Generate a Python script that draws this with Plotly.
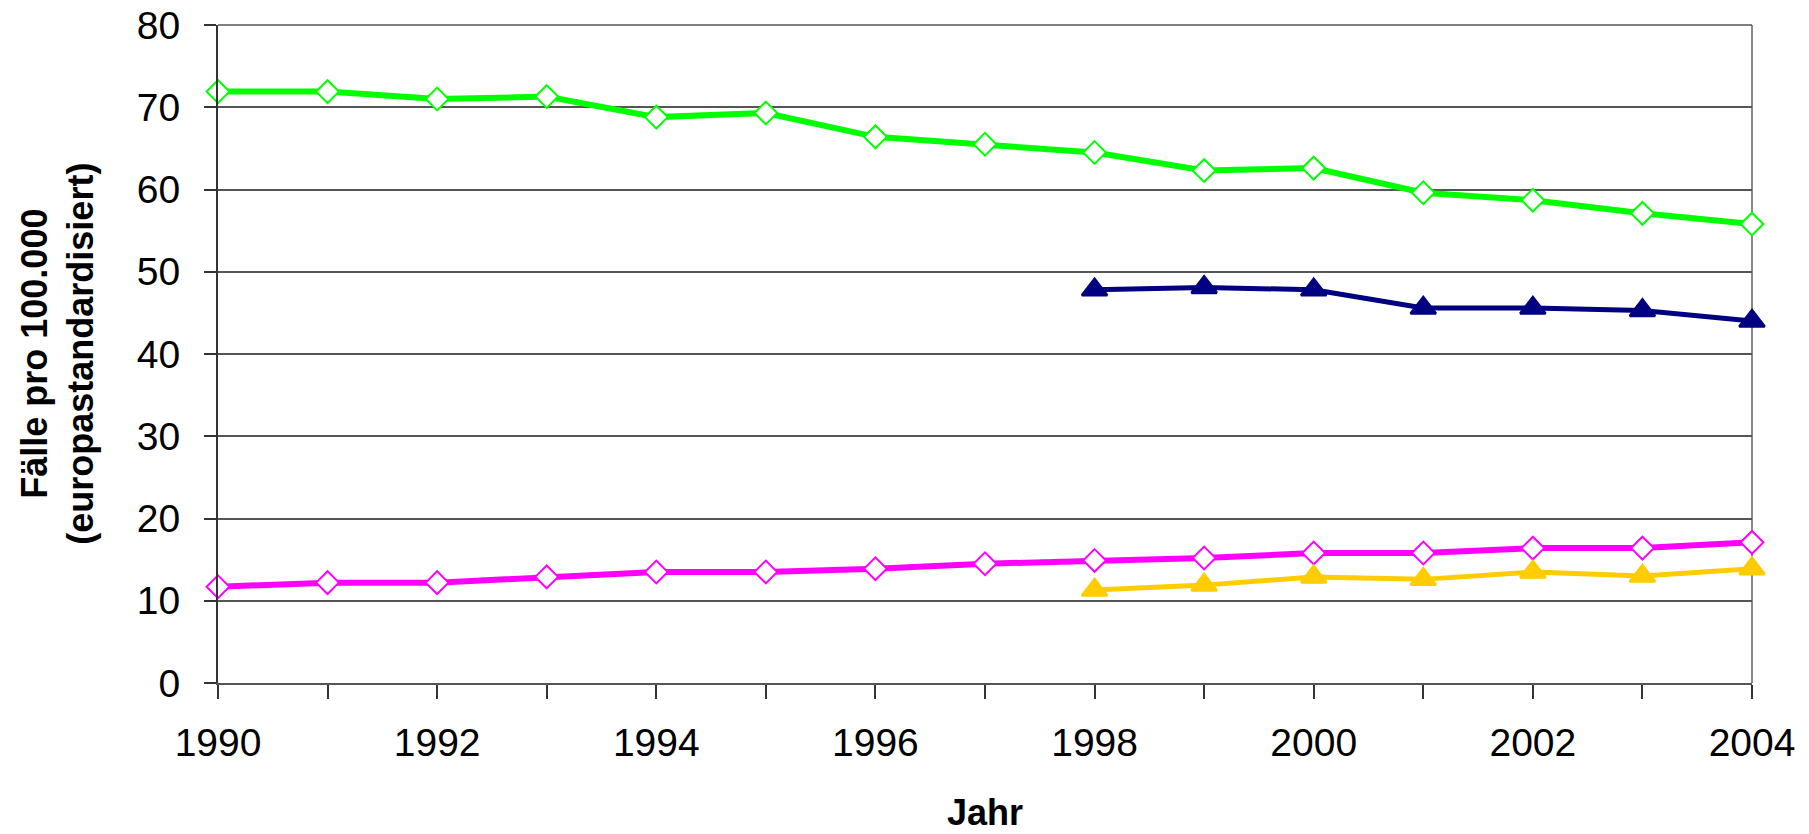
import plotly.graph_objects as go

years_all = list(range(1990, 2005))
years_late = list(range(1998, 2005))

green_vals = [71.9, 71.9, 71.0, 71.3, 68.8, 69.3, 66.4, 65.5, 64.5, 62.3, 62.6, 59.6, 58.7, 57.1, 55.8]
navy_vals = [47.8, 48.1, 47.8, 45.6, 45.6, 45.3, 44.0]
magenta_vals = [11.7, 12.2, 12.2, 12.9, 13.5, 13.5, 13.9, 14.5, 14.9, 15.2, 15.8, 15.8, 16.4, 16.4, 17.1]
yellow_vals = [11.3, 11.9, 12.9, 12.6, 13.5, 13.0, 13.9]

x_tickvals = [1990, 1992, 1994, 1996, 1998, 2000, 2002, 2004]
y_tickvals = [0, 10, 20, 30, 40, 50, 60, 70, 80]

FONT = "Liberation Sans, Arial, sans-serif"

fig = go.Figure()

def diamond_trace(x, y, color, lw):
    return go.Scatter(
        x=x, y=y, mode="lines+markers",
        line=dict(color=color, width=lw),
        marker=dict(symbol="diamond", size=17.5, color="white",
                    line=dict(color=color, width=2)),
        cliponaxis=False, showlegend=False, hoverinfo="skip")

def triangle_trace(x, y, color, lw):
    return go.Scatter(
        x=x, y=y, mode="lines+markers",
        line=dict(color=color, width=lw),
        marker=dict(symbol="triangle-up", size=22, color=color,
                    line=dict(color=color, width=2.5)),
        cliponaxis=False, showlegend=False, hoverinfo="skip")

fig.add_trace(diamond_trace(years_all, green_vals, "#00FF00", 6))
fig.add_trace(triangle_trace(years_late, navy_vals, "#000080", 5))
fig.add_trace(diamond_trace(years_all, magenta_vals, "#FF00FF", 6))
fig.add_trace(triangle_trace(years_late, yellow_vals, "#FFCC00", 5))

fig.update_layout(
    width=1801, height=826,
    margin=dict(l=210, r=57, t=17, b=151, autoexpand=False),
    paper_bgcolor="white", plot_bgcolor="white",
    font=dict(family=FONT, color="black"),
    xaxis=dict(
        range=[1990, 2004], tickvals=x_tickvals,
        ticks="outside", ticklen=14, tickwidth=1.5, tickcolor="#333",
        minor=dict(dtick=1, tick0=1990, ticks="outside", ticklen=14,
                   tickwidth=1.5, tickcolor="#333", showgrid=False),
        showgrid=False, zeroline=False,
        showline=True, linecolor="#555", linewidth=2,
        tickfont=dict(size=39, family=FONT, color="black"),
        ticklabelstandoff=10,
        ticklabeloverflow="allow",
        automargin=False,
    ),
    yaxis=dict(
        range=[0, 80], tickvals=y_tickvals,
        ticks="outside", ticklen=12, tickwidth=1.5, tickcolor="#333",
        showgrid=True, gridcolor="#555", gridwidth=1.5,
        zeroline=False,
        showline=True, linecolor="#333", linewidth=2,
        tickfont=dict(size=39, family=FONT, color="black"),
        ticklabelstandoff=16,
        ticklabeloverflow="allow",
        automargin=False,
    ),
    annotations=[
        dict(text="<b>Fälle pro 100.000<br>(europastandardisiert)</b>",
             xref="paper", yref="paper", x=-0.1045, y=0.5,
             xanchor="center", yanchor="middle", textangle=-90,
             showarrow=False, font=dict(size=36, family=FONT, color="black")),
        dict(text="<b>Jahr</b>",
             xref="paper", yref="paper", x=0.5, y=-0.197,
             xanchor="center", yanchor="middle",
             showarrow=False, font=dict(size=36, family=FONT, color="black")),
    ],
    shapes=[
        dict(type="line", xref="paper", yref="paper", x0=1, x1=1, y0=0, y1=1,
             line=dict(color="#888", width=2), layer="below"),
        dict(type="line", xref="paper", yref="paper", x0=0, x1=1, y0=1, y1=1,
             line=dict(color="#555", width=1.5), layer="below"),
    ],
)

fig.write_html("out.html")
